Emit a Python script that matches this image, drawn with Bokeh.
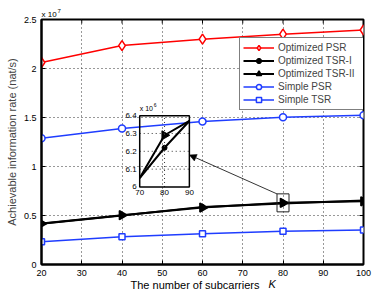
import numpy as np
from bokeh.plotting import figure
from bokeh.models import (Range1d, FixedTicker, Legend, LegendItem, Title, Arrow, NormalHead)
from bokeh.core.properties import value
from bokeh.embed import file_html
from bokeh.resources import INLINE

# ---------------- data ----------------
K = [20, 40, 60, 80, 100]
opt_psr = [2.061e7, 2.234e7, 2.299e7, 2.350e7, 2.393e7]
opt_tsr1 = [4.15e6, 5.00e6, 5.88e6, 6.22e6, 6.52e6]
opt_tsr2 = [4.18e6, 5.03e6, 5.81e6, 6.29e6, 6.45e6]
simple_psr = [1.289e7, 1.387e7, 1.458e7, 1.502e7, 1.522e7]
simple_tsr = [0.232e7, 0.283e7, 0.313e7, 0.340e7, 0.351e7]
series_names = ["Optimized PSR", "Optimized TSR-I", "Optimized TSR-II", "Simple PSR", "Simple TSR"]
x_ticks = [20, 30, 40, 50, 60, 70, 80, 90, 100]
y_ticks = [0, 0.5, 1, 1.5, 2, 2.5]
inset_x_ticks = [70, 80, 90]
inset_y_ticks = [6.0, 6.1, 6.2, 6.3, 6.4]
inset_y_labels = ["6", "6.1", "6.2", "6.3", "6.4"]
x_label = "The number of subcarriers"
x_label_symbol = "K"
y_label = "Achievable information rate (nat/s)"

SC = 1e7   # main y scale (x 10^7)
ISC = 1e6  # inset y scale (x 10^6)
FONT = "Liberation Sans"
BLUE = "#1f3dff"

p = figure(width=372, height=297, x_range=Range1d(20, 100), y_range=Range1d(0, 2.5),
           output_backend="svg", toolbar_location=None,
           min_border_left=41, min_border_right=9, min_border_top=19, min_border_bottom=33)
p.background_fill_color = "white"
p.border_fill_color = "white"
p.outline_line_color = "black"
p.outline_line_width = 2

for ax in p.axis:
    ax.axis_line_width = 2
    ax.major_tick_in = 4
    ax.major_tick_out = 0
    ax.minor_tick_in = 0
    ax.minor_tick_out = 0
    ax.major_label_text_font = FONT
    ax.major_label_text_font_size = "9px"
    ax.major_label_text_color = "black"
    ax.major_label_standoff = 5
    ax.axis_label_text_font = FONT
    ax.axis_label_text_font_size = "11px"
    ax.axis_label_text_font_style = "normal"
p.xaxis.ticker = FixedTicker(ticks=x_ticks)
p.yaxis.ticker = FixedTicker(ticks=y_ticks)
p.yaxis.axis_label = y_label
p.yaxis.axis_label_standoff = 3

# grid
p.grid.grid_line_color = "#333333"
p.grid.grid_line_dash = "1 3"
p.grid.grid_line_width = 1

# inward tick marks on the top and right edges (box style)
p.scatter(x_ticks, [y_ticks[-1]] * len(x_ticks), marker="dash", angle=np.pi / 2, size=8,
          line_color="black", line_width=1)
p.scatter([x_ticks[-1]] * len(y_ticks), y_ticks, marker="dash", size=8, line_color="black", line_width=1)

ys = lambda arr, s=SC: [v / s for v in arr]

# main series
r_psr_l = p.line(K, ys(opt_psr), line_color="red", line_width=1.5)
r_psr_m = p.scatter(K, ys(opt_psr), marker="diamond", size=10, line_color="red", line_width=1.5, fill_color="white")
r_t1_l = p.line(K, ys(opt_tsr1), line_color="black", line_width=2)
r_t1_m = p.scatter(K, ys(opt_tsr1), marker="circle", size=5, line_color="black", fill_color="black")
r_t2_l = p.line(K, ys(opt_tsr2), line_color="black", line_width=2)
r_t2_m = p.scatter(K, ys(opt_tsr2), marker="triangle", angle=-np.pi / 2, size=9,
                   line_color="black", fill_color="black", line_width=1.5)
r_sp_l = p.line(K, ys(simple_psr), line_color=BLUE, line_width=1.5)
r_sp_m = p.scatter(K, ys(simple_psr), marker="circle", size=7, line_color=BLUE, line_width=1.5, fill_color="white")
r_st_l = p.line(K, ys(simple_tsr), line_color=BLUE, line_width=1.5)
r_st_m = p.scatter(K, ys(simple_tsr), marker="square", size=6, line_color=BLUE, line_width=1.5, fill_color="white")

# small zoom box around TSR-II point at K=80
zi = K.index(80)
p.rect([K[zi]], [opt_tsr2[zi] / SC], width=12, height=18, width_units="screen", height_units="screen",
       fill_alpha=0, line_color="#222222", line_width=1)

# ---------------- inset via extra ranges ----------------
box_x0, box_x1, box_y0, box_y1 = 44.4, 56.74, 0.791, 1.519   # inset placement in main units
ix0, ix1 = inset_x_ticks[0], inset_x_ticks[-1]
iy0, iy1 = inset_y_ticks[0], inset_y_ticks[-1]
sx = (box_x1 - box_x0) / (ix1 - ix0)
sy = (box_y1 - box_y0) / (iy1 - iy0)
p.extra_x_ranges = {"ins": Range1d(ix0 + (20 - box_x0) / sx, ix0 + (100 - box_x0) / sx)}
p.extra_y_ranges = {"ins": Range1d(iy0 + (0 - box_y0) / sy, iy0 + (2.5 - box_y0) / sy)}
IR = dict(x_range_name="ins", y_range_name="ins")


def clip_poly(xs, yv, xmin, xmax, ymin, ymax):
    out_x, out_y = [], []
    for i in range(len(xs) - 1):
        x0, y0, x1, y1 = xs[i], yv[i], xs[i + 1], yv[i + 1]
        dx, dy = x1 - x0, y1 - y0
        t0, t1 = 0.0, 1.0
        ok = True
        for pp, q in ((-dx, x0 - xmin), (dx, xmax - x0), (-dy, y0 - ymin), (dy, ymax - y0)):
            if pp == 0:
                if q < 0:
                    ok = False
                    break
            else:
                r = q / pp
                if pp < 0:
                    t0 = max(t0, r)
                else:
                    t1 = min(t1, r)
        if ok and t0 <= t1:
            out_x += [x0 + t0 * dx, x0 + t1 * dx, np.nan]
            out_y += [y0 + t0 * dy, y0 + t1 * dy, np.nan]
    return out_x, out_y


for arr in (opt_tsr1, opt_tsr2):
    cx, cy = clip_poly(K, ys(arr, ISC), ix0, ix1, iy0, iy1)
    p.line(cx, cy, line_color="black", line_width=2, **IR)
in_k = [k for k in K if ix0 <= k <= ix1]
p.scatter(in_k, [opt_tsr1[K.index(k)] / ISC for k in in_k], marker="circle", size=5,
          line_color="black", fill_color="black", **IR)
p.scatter(in_k, [opt_tsr2[K.index(k)] / ISC for k in in_k], marker="triangle", angle=-np.pi / 2, size=9,
          line_color="black", fill_color="black", **IR)

# inset grid
gx = inset_x_ticks[1:-1]
gy = inset_y_ticks[1:-1]
p.segment(x0=gx, y0=[iy0] * len(gx), x1=gx, y1=[iy1] * len(gx), line_color="#333333",
          line_dash="1 3", line_width=1, **IR)
p.segment(x0=[ix0] * len(gy), y0=gy, x1=[ix1] * len(gy), y1=gy, line_color="#333333",
          line_dash="1 3", line_width=1, **IR)
# inset frame
p.quad(left=[ix0], right=[ix1], bottom=[iy0], top=[iy1], fill_alpha=0, line_color="black",
       line_width=1.5, **IR)
# inset tick labels
p.text(x=[ix0] * len(inset_y_ticks), y=inset_y_ticks, text=inset_y_labels, x_offset=-3,
       text_align="right", text_baseline="middle", text_font=value(FONT), text_font_size="8px",
       text_color="black", **IR)
p.text(x=inset_x_ticks, y=[iy0] * len(inset_x_ticks), text=[str(t) for t in inset_x_ticks], y_offset=3,
       text_align="center", text_baseline="top", text_font=value(FONT), text_font_size="8px",
       text_color="black", **IR)
p.text(x=[ix0], y=[iy1], text=["x 10"], y_offset=-4, x_offset=0, text_align="left",
       text_baseline="bottom", text_font=value(FONT), text_font_size="7px", text_color="black", **IR)
p.text(x=[ix0], y=[iy1], text=["6"], y_offset=-9, x_offset=14, text_align="left",
       text_baseline="bottom", text_font=value(FONT), text_font_size="5px", text_color="black", **IR)

# arrow from zoom box to inset
start_x = K[zi] - 6 * 80 / 322.3
start_y = opt_tsr2[zi] / SC + 9 / 98.4
end_x = box_x1
end_y = box_y0 + (6.18 - iy0) * sy
p.add_layout(Arrow(x_start=start_x, y_start=start_y, x_end=end_x, y_end=end_y,
                   line_color="black", line_width=0.8,
                   end=NormalHead(size=7, fill_color="black", line_color="black", line_width=0.5)))

# exponent of main y axis (above the frame)
p.add_layout(Title(text="x 10", align="left", offset=0, standoff=2, vertical_align="bottom",
                   text_font=FONT, text_font_size="8px", text_font_style="normal", text_color="black"), "above")
p.add_layout(Title(text="7", align="left", offset=16, standoff=-12, vertical_align="bottom",
                   text_font=FONT, text_font_size="6px", text_font_style="normal", text_color="black"), "above")

# x axis label with italic K (below the frame)
p.add_layout(Title(text=x_label, align="left", offset=89, standoff=0, vertical_align="top",
                   text_font=FONT, text_font_size="11px", text_font_style="normal", text_color="black"), "below")
p.add_layout(Title(text=x_label_symbol, align="left", offset=227, standoff=-30, vertical_align="top",
                   text_font=FONT, text_font_size="11px", text_font_style="italic", text_color="black"), "below")

# legend
rends = [(r_psr_l, r_psr_m), (r_t1_l, r_t1_m), (r_t2_l, r_t2_m), (r_sp_l, r_sp_m), (r_st_l, r_st_m)]
items = [LegendItem(label=n, renderers=list(r)) for n, r in zip(series_names, rends)]
legend = Legend(items=items, location=(198, 154), label_text_font=FONT, label_text_font_size="10px",
                glyph_width=31, glyph_height=13, label_height=13, label_width=83, label_standoff=4,
                spacing=0, padding=3, margin=0, border_line_color="black", border_line_width=1,
                background_fill_color="white", background_fill_alpha=1)
p.add_layout(legend, "center")

open("out.html", "w").write(file_html(p, INLINE))
